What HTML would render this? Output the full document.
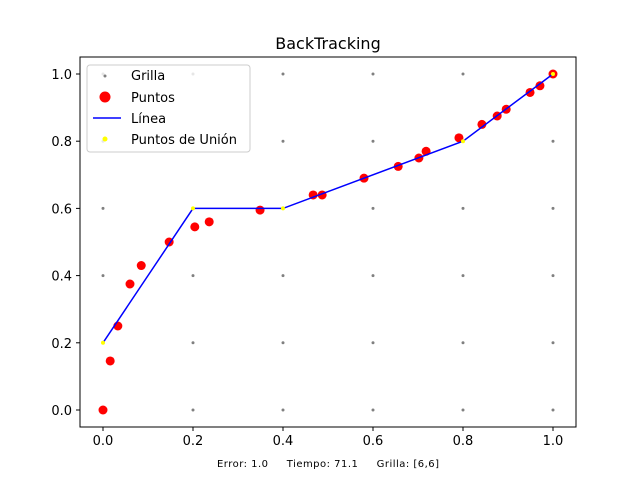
<!DOCTYPE html>
<html><head><meta charset="utf-8"><style>
body{margin:0;background:#fff;font-family:"Liberation Sans","DejaVu Sans",sans-serif;}
svg text{font-family:"DejaVu Sans","Liberation Sans",sans-serif;}
</style></head><body>
<svg id="chart" width="640" height="480" xmlns="http://www.w3.org/2000/svg">
<rect width="640" height="480" fill="#fff"/>
<text x="328" y="49" font-size="16" text-anchor="middle">BackTracking</text>
<g id="marks"></g>
<rect x="80" y="57" width="496" height="370" fill="none" stroke="#000" stroke-width="1"/>
<g id="ticks"></g>
<g>
<rect x="87" y="65" width="163" height="87" rx="3" fill="#fff" fill-opacity="0.8" stroke="#ccc"/>
<circle cx="105" cy="76" r="1.5" fill="#808080"/>
<text x="131" y="80" font-size="13">Grilla</text>
<circle cx="105" cy="97" r="5.5" fill="#f00"/>
<text x="131" y="102" font-size="13">Puntos</text>
<line x1="93" y1="118" x2="121" y2="118" stroke="#00f" stroke-width="1.5"/>
<text x="131" y="123" font-size="13">Línea</text>
<circle cx="105" cy="139" r="2.5" fill="#ff0"/>
<text x="131" y="144" font-size="13">Puntos de Unión</text>
</g>
<text x="217" y="467" font-size="10" textLength="222" lengthAdjust="spacing">Error: 1.0 &#160;&#160;&#160; Tiempo: 71.1 &#160;&#160;&#160; Grilla: [6,6]</text>
</svg>
<script>
const gridVals=[0,0.2,0.4,0.6,0.8,1.0];
const pointsX=[0,0.016,0.033,0.06,0.085,0.147,0.204,0.236,0.349,0.467,0.487,0.58,0.656,0.702,0.718,0.791,0.842,0.876,0.896,0.949,0.971,1.0];
const pointsY=[0,0.146,0.25,0.375,0.43,0.5,0.545,0.56,0.595,0.64,0.64,0.69,0.725,0.75,0.77,0.81,0.85,0.875,0.895,0.945,0.965,1.0];
const lineX=[0,0.2,0.4,0.8,1.0];
const lineY=[0.2,0.6,0.6,0.8,1.0];
const tickLabels=["0.0","0.2","0.4","0.6","0.8","1.0"];
const NS="http://www.w3.org/2000/svg";
const sx=v=>103+v*450, sy=v=>410-v*336;
const marks=document.getElementById('marks'), ticks=document.getElementById('ticks');
function mk(tag,attrs,parent){const e=document.createElementNS(NS,tag);for(const k in attrs)e.setAttribute(k,attrs[k]);parent.appendChild(e);return e;}
gridVals.forEach(gx=>gridVals.forEach(gy=>{
 const c=mk('circle',{cx:sx(gx),cy:sy(gy),r:1.5,fill:'#808080'},marks);
 
 
}));
pointsX.forEach((x,i)=>{
 const c=mk('circle',{cx:sx(x),cy:sy(pointsY[i]),r:4.5,fill:'#f00'},marks);
 
 
});
const pl=mk('polyline',{points:lineX.map((x,i)=>sx(x)+','+sy(lineY[i])).join(' '),fill:'none',stroke:'#00f','stroke-width':1.5},marks);


lineX.forEach((x,i)=>{
 const c=mk('circle',{cx:sx(x),cy:sy(lineY[i]),r:2,fill:'#ff0'},marks);
 
 
});
gridVals.forEach((v,i)=>{
 mk('line',{x1:sx(v),y1:427,x2:sx(v),y2:431,stroke:'#000'},ticks);
 const t=mk('text',{x:sx(v),y:445,'font-size':13,'text-anchor':'middle'},ticks);t.textContent=tickLabels[i];
 
 
 mk('line',{x1:76,y1:sy(v),x2:80,y2:sy(v),stroke:'#000'},ticks);
 const u=mk('text',{x:72,y:sy(v)+5,'font-size':13,'text-anchor':'end'},ticks);u.textContent=tickLabels[i];
 
 
});
</script>
</body></html>
